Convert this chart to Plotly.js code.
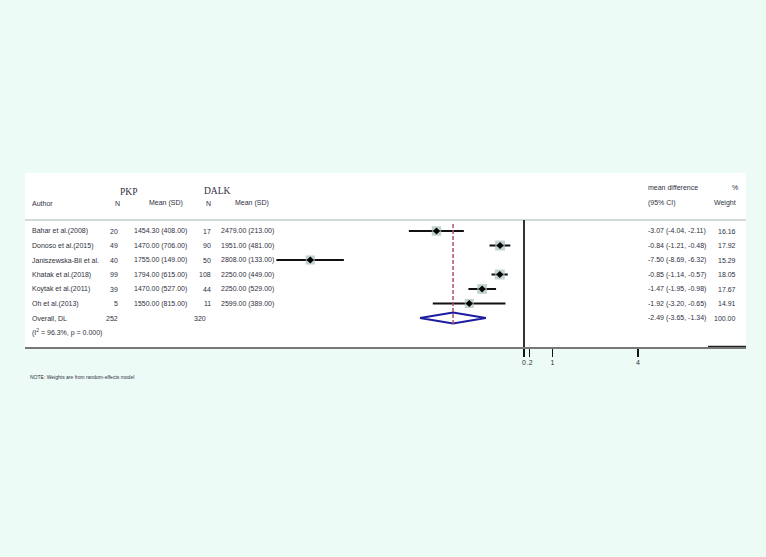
<!DOCTYPE html>
<html>
<head>
<meta charset="utf-8">
<script src="https://cdn.plot.ly/plotly-3.0.1.min.js"></script>
<style>
  html, body { margin: 0; padding: 0; background: #ecfbf5; }
  #plot { width: 766px; height: 557px; }
</style>
</head>
<body>
<div id="plot"></div>
<script>
// study data
const authors = ['Bahar et al.(2008)', 'Donoso et al.(2015)', 'Janiszewska-Bil et al.',
  'Khatak et al.(2018)', 'Koytak et al.(2011)', 'Oh et al.(2013)'];
const nPKP = [20, 49, 40, 99, 39, 5];
const meanPKP = ['1454.30 (408.00)', '1470.00 (706.00)', '1755.00 (149.00)',
  '1794.00 (615.00)', '1470.00 (527.00)', '1550.00 (815.00)'];
const nDALK = [17, 90, 50, 108, 44, 11];
const meanDALK = ['2479.00 (213.00)', '1951.00 (481.00)', '2808.00 (133.00)',
  '2250.00 (449.00)', '2250.00 (529.00)', '2599.00 (389.00)'];
const md = [-3.07, -0.84, -7.50, -0.85, -1.47, -1.92];
const lo = [-4.04, -1.21, -8.69, -1.14, -1.95, -3.20];
const hi = [-2.11, -0.48, -6.32, -0.57, -0.98, -0.65];
const weight = [16.16, 17.92, 15.29, 18.05, 17.67, 14.91];

const overall = { label: 'Overall, DL', nPKP: 252, nDALK: 320, md: -2.49, lo: -3.65, hi: -1.34, weight: 100.00 };
const hetText = '(I<sup>2</sup> = 96.3%, p = 0.000)';

const tickVals = [0, 0.2, 1, 4];
const tickText = ['0', '.2', '1', '4'];

// layout helpers (pixel -> paper)
const W = 766, H = 557;
const L = 25, R = 746, T = 173, B = 347;
const px = p => (p - L) / (R - L);
const rowY = authors.map((a, i) => -i);
const overallY = -authors.length;

const txtColor = '#303040';
const small = { family: 'Liberation Sans, Arial, sans-serif', size: 7, color: txtColor };
const serif = { family: 'Liberation Serif, Times New Roman, serif', size: 9.5, color: txtColor };

const ann = [];
function addText(text, xp, y, anchor, font) {
  ann.push({ text: text, xref: 'paper', yref: 'y', x: px(xp), y: y, xanchor: anchor,
    yanchor: 'middle', showarrow: false, font: font || small });
}

// headers
addText('PKP', 128, 2.69, 'center', serif);
addText('DALK', 217, 2.76, 'center', serif);
addText('Author', 30, 1.93, 'left');
addText('N', 117, 1.93, 'center');
addText('Mean (SD)', 185, 1.93, 'right');
addText('N', 208, 1.93, 'center');
addText('Mean (SD)', 271, 1.93, 'right');
addText('mean difference', 646, 2.97, 'left');
addText('%', 740, 2.97, 'right');
addText('(95% CI)', 646, 1.93, 'left');
addText('Weight', 738, 1.93, 'right');

const f2 = v => v.toFixed(2);
authors.forEach((a, i) => {
  const y = rowY[i];
  addText(a, 30, y, 'left');
  addText(String(nPKP[i]), 120, y, 'right');
  addText(meanPKP[i], 132, y, 'left');
  addText(String(nDALK[i]), 213, y, 'right');
  addText(meanDALK[i], 219, y, 'left');
  addText(f2(md[i]) + ' (' + f2(lo[i]) + ', ' + f2(hi[i]) + ')', 646, y, 'left');
  addText(f2(weight[i]), 738, y, 'right');
});
addText(overall.label, 30, overallY, 'left');
addText(String(overall.nPKP), 120, overallY, 'right');
addText(String(overall.nDALK), 208, overallY, 'right');
addText(f2(overall.md) + ' (' + f2(overall.lo) + ', ' + f2(overall.hi) + ')', 646, overallY, 'left');
addText(f2(overall.weight), 738, overallY, 'right');
addText(hetText, 30, -7.03, 'left');

// note below the panel
ann.push({ text: 'NOTE: Weights are from random-effects model', xref: 'paper', yref: 'paper',
  x: px(28), y: (B - 377) / (B - T), xanchor: 'left', yanchor: 'middle', showarrow: false,
  font: { family: 'Liberation Sans, Arial, sans-serif', size: 5, color: txtColor } });

// traces
const ciTrace = {
  x: md, y: rowY, mode: 'markers', type: 'scatter',
  marker: { size: 1, color: 'rgba(0,0,0,0)' },
  error_x: { type: 'data', symmetric: false,
    array: md.map((m, i) => hi[i] - m), arrayminus: md.map((m, i) => m - lo[i]),
    width: 0, thickness: 2, color: '#111' },
  hoverinfo: 'skip'
};
const boxTrace = {
  x: md, y: rowY, mode: 'markers', type: 'scatter',
  marker: { symbol: 'square', size: weight.map(w => 9.5 * Math.sqrt(w / 16.5)), color: '#a9bdbd',
    line: { width: 0 } },
  hoverinfo: 'skip'
};
const pointTrace = {
  x: md, y: rowY, mode: 'markers', type: 'scatter',
  marker: { symbol: 'diamond', size: 5.5, color: '#000' },
  hoverinfo: 'skip'
};
const dh = 0.38;
const diamondTrace = {
  x: [overall.lo, overall.md, overall.hi, overall.md, overall.lo],
  y: [overallY, overallY + dh, overallY, overallY - dh, overallY],
  mode: 'lines', type: 'scatter',
  line: { color: '#1c1ca0', width: 2 },
  hoverinfo: 'skip'
};

// x range so that 0 sits at pixel 524 with 28.5 px per unit
const pxPerUnit = 28.5, zeroPx = 524;
const xRange = [(L - zeroPx) / pxPerUnit, (R - zeroPx) / pxPerUnit];

const shapes = [
  // header separator
  { type: 'line', xref: 'paper', yref: 'y', x0: 0, x1: 1, y0: 0.76, y1: 0.76,
    line: { color: '#c5cccc', width: 1.5 } },
  // null line
  { type: 'line', xref: 'x', yref: 'y', x0: 0, x1: 0, y0: 0.76, y1: -8,
    line: { color: '#333', width: 2 } },
  // overall effect line
  { type: 'line', xref: 'x', yref: 'y', x0: overall.md, x1: overall.md, y0: 0.48, y1: -6.41,
    line: { color: '#b05068', width: 1.5, dash: '4px,2px' } },
  // thick end segment of the axis
  { type: 'line', xref: 'paper', yref: 'y', x0: px(708), x1: 1, y0: -8, y1: -8,
    line: { color: '#222', width: 2.5 } }
];

const layout = {
  width: W, height: H,
  margin: { l: L, r: W - R, t: T, b: H - B, pad: 0 },
  paper_bgcolor: '#ecfbf5',
  plot_bgcolor: '#ffffff',
  showlegend: false,
  xaxis: {
    range: xRange, showgrid: false, zeroline: false, fixedrange: true,
    showline: true, linecolor: '#777', linewidth: 1.5,
    tickmode: 'array', tickvals: tickVals, ticktext: tickText, tickangle: 0,
    ticks: 'outside', ticklen: 8, tickwidth: 1.5, tickcolor: '#111',
    tickfont: { family: 'Liberation Sans, Arial, sans-serif', size: 7, color: txtColor }
  },
  yaxis: { range: [-8, 4], visible: false, fixedrange: true },
  annotations: ann,
  shapes: shapes
};

Plotly.newPlot('plot', [ciTrace, boxTrace, pointTrace, diamondTrace], layout, { staticPlot: true });
</script>
</body>
</html>
